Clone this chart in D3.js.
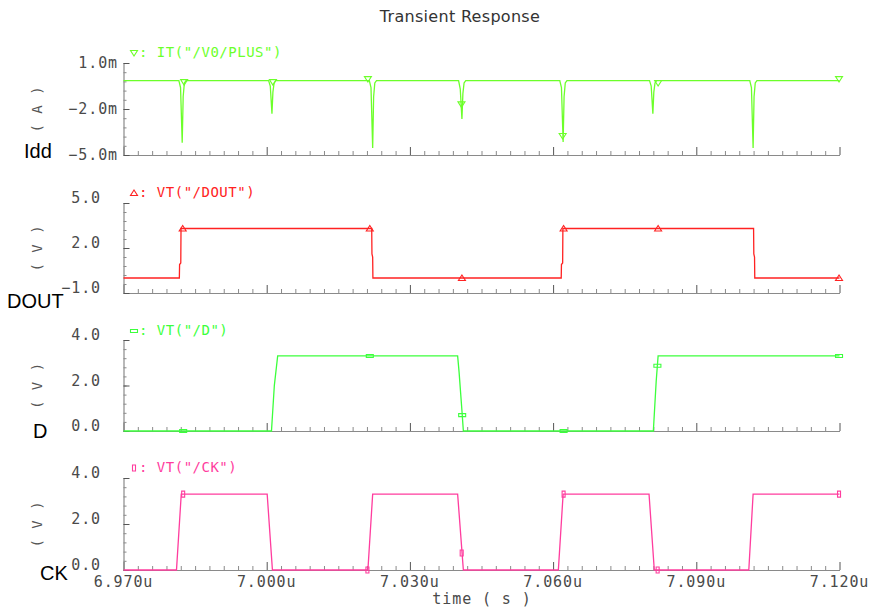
<!DOCTYPE html>
<html>
<head>
<meta charset="utf-8">
<script src="https://cdn.jsdelivr.net/npm/d3@7"></script>
<style>
  body { margin: 0; background: #fff; }
  svg { display: block; }
  .mono { font-family: "DejaVu Sans Mono", monospace; font-size: 14px; }
  .tick-label { fill: #4a4a4a; font-size: 15px; letter-spacing: 0.9px; }
  .unit { fill: #555; letter-spacing: 1px; }
  .legend { letter-spacing: 0.5px; }
  .name { font-family: "Liberation Sans", Arial, sans-serif; font-size: 20px; fill: #000; }
  .title { font-family: "DejaVu Sans", sans-serif; font-size: 16px; fill: #333; letter-spacing: 0.3px; }
</style>
</head>
<body>
<div id="chart"></div>
<script>
// --- Dados (tempo em ns, correntes em mA, tensões em V) ---

const timeTicks = [6970, 7000, 7030, 7060, 7090, 7120];
const timeTickLabels = ['6.970u', '7.000u', '7.030u', '7.060u', '7.090u', '7.120u'];

const iddTicks = [1.0, -2.0, -5.0];
const iddTickLabels = ['1.0m', '\u22122.0m', '\u22125.0m'];
const doutTicks = [5.0, 2.0, -1.0];
const doutTickLabels = ['5.0', '2.0', '\u22121.0'];
const dTicks = [4.0, 2.0, 0.0];
const dTickLabels = ['4.0', '2.0', '0.0'];
const ckTicks = [4.0, 2.0, 0.0];
const ckTickLabels = ['4.0', '2.0', '0.0'];

// Idd: picos de corrente em cada borda do clock
const iddPoints = [
  [6970, -0.15],
  [6981.6, -0.15], [6981.95, -0.6], [6982.3, -4.2], [6982.5, -1.2], [6982.75, -0.3], [6983.1, -0.15],
  [7000.4, -0.15], [7000.75, -0.5], [7001.1, -2.3], [7001.3, -0.9], [7001.55, -0.3], [7001.9, -0.15],
  [7021.5, -0.15], [7021.85, -0.6], [7022.2, -4.55], [7022.4, -1.2], [7022.65, -0.3], [7023.0, -0.15],
  [7040.2, -0.15], [7040.55, -0.7], [7040.9, -2.65], [7041.1, -1.0], [7041.35, -0.3], [7041.7, -0.15],
  [7061.4, -0.15], [7061.75, -0.6], [7062.1, -4.15], [7062.3, -1.2], [7062.55, -0.3], [7062.9, -0.15],
  [7080.2, -0.15], [7080.55, -0.5], [7080.9, -2.3], [7081.1, -0.9], [7081.35, -0.3], [7081.7, -0.15],
  [7101.2, -0.15], [7101.55, -0.6], [7101.9, -4.55], [7102.1, -1.2], [7102.35, -0.3], [7102.7, -0.15],
  [7120, -0.15]
];
const iddMarkers = [[6982.7, -0.25], [7001.3, -0.25], [7021.2, -0.05], [7040.8, -1.7], [7062.0, -3.76], [7082.0, -0.3], [7119.9, -0.05]];

const doutPoints = [
  [6970, 0], [6981.7, 0], [6981.75, 0.9], [6982.0, 1.0], [6982.05, 3.3],
  [7022.0, 3.3], [7022.05, 1.6], [7022.2, 1.4], [7022.25, 0],
  [7061.7, 0], [7061.75, 0.9], [7062.0, 1.0], [7062.05, 3.3],
  [7102.0, 3.3], [7102.05, 1.6], [7102.2, 1.4], [7102.25, 0],
  [7120, 0]
];
const doutMarkers = [[6982.4, 3.3], [7021.6, 3.3], [7040.9, 0], [7062.2, 3.3], [7082.0, 3.3], [7119.9, 0]];

const dPoints = [
  [6970, 0], [7001.0, 0], [7001.3, 1.0], [7001.6, 2.0], [7002.3, 3.3],
  [7040.0, 3.3], [7040.3, 2.6], [7040.9, 0.9], [7041.2, 0],
  [7081.0, 0], [7081.3, 1.1], [7081.6, 2.2], [7082.0, 3.3],
  [7120, 3.3]
];
const dMarkers = [[6982.5, 0], [7021.6, 3.3], [7040.95, 0.7], [7062.2, 0], [7081.85, 2.87], [7119.9, 3.3]];

const ckPoints = [
  [6970, 0], [6981.1, 0], [6982.1, 3.3], [7000.1, 3.3], [7001.2, 0],
  [7021.2, 0], [7022.2, 3.3], [7040.0, 3.3], [7041.2, 0],
  [7061.1, 0], [7062.1, 3.3], [7080.1, 3.3], [7081.2, 0],
  [7101.0, 0], [7101.9, 3.3], [7120, 3.3]
];
const ckMarkers = [[6982.5, 3.3], [7021.1, 0], [7040.85, 0.74], [7062.2, 3.3], [7081.9, 0], [7119.9, 3.3]];

// --- Layout ---

const width = 877;
const height = 610;

const panels = [
  { name: 'Idd', nameX: 24, nameY: 158, top: 63, bottom: 155, domain: [-5, 1], minorStep: 0.6,
    ticks: iddTicks, labels: iddTickLabels, labelX: 118, labelDy: 0, unit: '( A )',
    color: '#6cff2a', points: iddPoints, markers: iddMarkers, marker: 'triDown',
    legend: ': IT("/V0/PLUS")', legendY: 52 },
  { name: 'DOUT', nameX: 7, nameY: 308, top: 203, bottom: 293, domain: [-1, 5], minorStep: 0.6,
    ticks: doutTicks, labels: doutTickLabels, labelX: 101, labelDy: -5, unit: '( V )',
    color: '#ff2222', points: doutPoints, markers: doutMarkers, marker: 'triUp',
    legend: ': VT("/DOUT")', legendY: 192 },
  { name: 'D', nameX: 33, nameY: 438, top: 340, bottom: 431, domain: [0, 4], minorStep: 0.4,
    ticks: dTicks, labels: dTickLabels, labelX: 101, labelDy: -5, unit: '( V )',
    color: '#3cff3c', points: dPoints, markers: dMarkers, marker: 'barH',
    legend: ': VT("/D")', legendY: 330 },
  { name: 'CK', nameX: 40, nameY: 580, top: 478, bottom: 570, domain: [0, 4], minorStep: 0.4,
    ticks: ckTicks, labels: ckTickLabels, labelX: 101, labelDy: -5, unit: '( V )',
    color: '#ff3d9e', points: ckPoints, markers: ckMarkers, marker: 'barV',
    legend: ': VT("/CK")', legendY: 467 }
];

const svg = d3.select('#chart')
  .append('svg')
  .attr('width', width)
  .attr('height', height);

const x = d3.scaleLinear().domain([6970, 7120]).range([123.5, 839.5]);
const minorTimes = d3.range(6970, 7121, 3).filter(t => !timeTicks.includes(t));

svg.append('text')
  .attr('class', 'title')
  .attr('x', 460)
  .attr('y', 22)
  .attr('text-anchor', 'middle')
  .text('Transient Response');

function markerPath(type, cx, cy) {
  if (type === 'triDown') return `M${cx - 3.5},${cy - 2.5}L${cx + 3.5},${cy - 2.5}L${cx},${cy + 3}Z`;
  if (type === 'triUp') return `M${cx - 3.5},${cy + 2.5}L${cx + 3.5},${cy + 2.5}L${cx},${cy - 3}Z`;
  if (type === 'barH') return `M${cx - 3.5},${cy - 1.5}h7v3h-7Z`;
  return `M${cx - 1.5},${cy - 3}h3v6h-3Z`;
}

function styleAxis(g, color) {
  g.selectAll('path.domain').attr('stroke', '#8a8a8a').attr('stroke-width', 1.2);
  g.selectAll('.tick line').attr('stroke', color).attr('stroke-width', 1);
  g.selectAll('.tick text').remove();
}

panels.forEach(p => {
  const y = d3.scaleLinear().domain(p.domain).range([p.bottom, p.top]);
  const g = svg.append('g');

  // eixo x (menores e maiores)
  g.append('g')
    .attr('transform', `translate(0,${p.bottom})`)
    .call(d3.axisBottom(x).tickValues(minorTimes).tickSize(-4).tickSizeOuter(0))
    .call(a => styleAxis(a, '#8a8a8a'));
  g.append('g')
    .attr('transform', `translate(0,${p.bottom})`)
    .call(d3.axisBottom(x).tickValues(timeTicks).tickSize(-8).tickSizeOuter(0))
    .call(a => { styleAxis(a, '#555'); a.select('path.domain').remove(); });

  // eixo y
  const minorY = d3.range(0, Math.round((p.domain[1] - p.domain[0]) / p.minorStep) + 1)
    .map(i => p.domain[0] + i * p.minorStep);
  g.append('g')
    .attr('transform', `translate(${x.range()[0]},0)`)
    .call(d3.axisLeft(y).tickValues(minorY).tickSize(-3).tickSizeOuter(0))
    .call(a => styleAxis(a, '#8a8a8a'));
  g.append('g')
    .attr('transform', `translate(${x.range()[0]},0)`)
    .call(d3.axisLeft(y).tickValues(p.ticks).tickSize(-6).tickSizeOuter(0))
    .call(a => { styleAxis(a, '#555'); a.select('path.domain').remove(); });

  // rótulos do eixo y
  g.selectAll('.ylab')
    .data(p.ticks)
    .enter().append('text')
    .attr('class', 'mono tick-label')
    .attr('x', p.labelX)
    .attr('y', d => y(d) + p.labelDy)
    .attr('dy', '0.36em')
    .attr('text-anchor', 'end')
    .text((d, i) => p.labels[i]);

  // unidade
  g.append('text')
    .attr('class', 'mono unit')
    .attr('transform', `translate(37,${(p.top + p.bottom) / 2}) rotate(-90)`)
    .attr('dy', '0.35em')
    .attr('text-anchor', 'middle')
    .text(p.unit);

  // nome do sinal
  g.append('text')
    .attr('class', 'name')
    .attr('x', p.nameX)
    .attr('y', p.nameY)
    .text(p.name);

  // curva
  const line = d3.line().x(d => x(d[0])).y(d => y(d[1]));
  g.append('path')
    .datum(p.points)
    .attr('fill', 'none')
    .attr('stroke', p.color)
    .attr('stroke-width', 1.3)
    .attr('d', line);

  // marcadores
  g.selectAll('.marker')
    .data(p.markers)
    .enter().append('path')
    .attr('fill', 'none')
    .attr('stroke', p.color)
    .attr('stroke-width', 1.1)
    .attr('d', d => markerPath(p.marker, x(d[0]), y(d[1])));

  // legenda
  g.append('path')
    .attr('fill', 'none')
    .attr('stroke', p.color)
    .attr('stroke-width', 1.1)
    .attr('d', markerPath(p.marker, 134, p.legendY + 1));
  g.append('text')
    .attr('class', 'mono legend')
    .attr('x', 139)
    .attr('y', p.legendY)
    .attr('dy', '0.36em')
    .attr('fill', p.color)
    .text(p.legend);
});

// rótulos do tempo
svg.selectAll('.xlab')
  .data(timeTicks)
  .enter().append('text')
  .attr('class', 'mono tick-label')
  .attr('x', d => x(d))
  .attr('y', 587)
  .attr('text-anchor', 'middle')
  .text((d, i) => timeTickLabels[i]);

svg.append('text')
  .attr('class', 'mono tick-label')
  .attr('x', 482)
  .attr('y', 604)
  .attr('text-anchor', 'middle')
  .text('time ( s )');
</script>
</body>
</html>
